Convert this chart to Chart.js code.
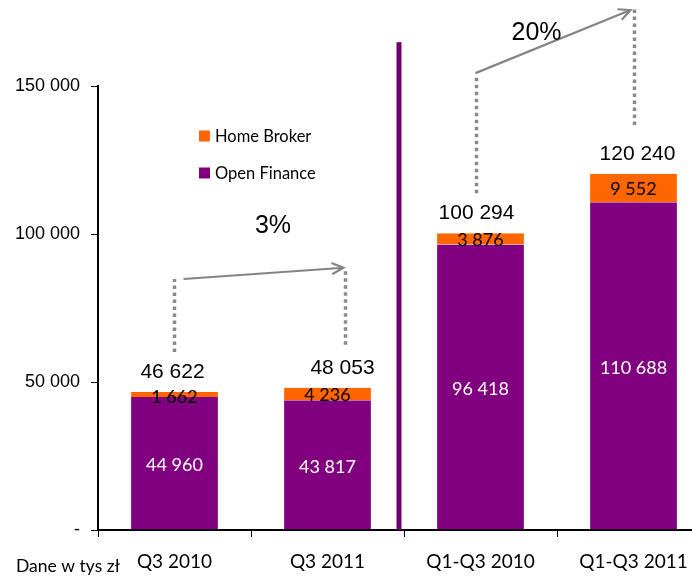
<!DOCTYPE html>
<html>
<head>
<meta charset="utf-8">
<script src="https://cdn.jsdelivr.net/npm/chart.js@4"></script>
<style>
  html, body { margin: 0; padding: 0; background: #fff; overflow: hidden; }
  canvas { display: block; }
</style>
</head>
<body>
<canvas id="chart" width="710" height="577"></canvas>
<script>
"use strict";

// chart data
const categories = ["Q3 2010", "Q3 2011", "Q1-Q3 2010", "Q1-Q3 2011"];
const openFinance = [44960, 43817, 96418, 110688];
const homeBroker = [1662, 4236, 3876, 9552];
const totals = [46622, 48053, 100294, 120240];
const yTicks = [0, 50000, 100000, 150000];
const growthLabels = ["3%", "20%"];
const unitLabel = "Dane w tys zł";

const PURPLE = "#800080";
const ORANGE = "#ff6600";
const GREY = "#8a8a8a";
const calibri = "Lato, 'Open Sans', sans-serif";
const arial = "'Liberation Sans', Arial, sans-serif";

function fmt(n) {
  return String(n).replace(/\B(?=(\d{3})+(?!\d))/g, " ");
}

function dotted(ctx, x, y1, y2) {
  ctx.save();
  ctx.strokeStyle = GREY;
  ctx.lineWidth = 3.5;
  ctx.setLineDash([3.5, 3.5]);
  ctx.beginPath();
  ctx.moveTo(x, y1);
  ctx.lineTo(x, y2);
  ctx.stroke();
  ctx.restore();
}

function arrow(ctx, x1, y1, x2, y2) {
  const a = Math.atan2(y2 - y1, x2 - x1);
  const h = 13;
  ctx.save();
  ctx.strokeStyle = "#858585";
  ctx.lineWidth = 2.2;
  ctx.beginPath();
  ctx.moveTo(x1, y1);
  ctx.lineTo(x2, y2);
  ctx.moveTo(x2 - h * Math.cos(a - 0.45), y2 - h * Math.sin(a - 0.45));
  ctx.lineTo(x2, y2);
  ctx.lineTo(x2 - h * Math.cos(a + 0.45), y2 - h * Math.sin(a + 0.45));
  ctx.stroke();
  ctx.restore();
}

// draws labels, legend, divider and growth arrows
const extras = {
  id: "extras",
  afterDatasetsDraw(chart) {
    const ctx = chart.ctx;
    const x = chart.scales.x;
    const y = chart.scales.y;
    const cx = categories.map((c, i) => x.getPixelForValue(i));
    const tops = totals.map(v => y.getPixelForValue(v));

    // divider between quarter and year-to-date bars
    ctx.fillStyle = "#6e006e";
    const dx = (cx[1] + cx[2]) / 2 - 5;
    const dTop = y.getPixelForValue(164800);
    ctx.fillRect(dx - 2.5, dTop, 5, y.bottom - dTop);

    ctx.textAlign = "center";
    ctx.textBaseline = "middle";

    // segment labels
    const metaOF = chart.getDatasetMeta(0);
    const metaHB = chart.getDatasetMeta(1);
    ctx.font = "18px " + calibri;
    metaOF.data.forEach((bar, i) => {
      ctx.fillStyle = "#ffffff";
      ctx.fillText(fmt(openFinance[i]), bar.x, (bar.y + bar.base) / 2 + 2);
    });
    metaHB.data.forEach((bar, i) => {
      ctx.fillStyle = "#000000";
      const off = homeBroker[i] < 3000 ? 3 : 1;
      ctx.fillText(fmt(homeBroker[i]), bar.x, (bar.y + bar.base) / 2 + off);
    });

    // totals
    ctx.font = "21px " + arial;
    ctx.fillStyle = "#000";
    const tOff = [-2, 15, -4, 4];
    totals.forEach((v, i) => {
      ctx.fillText(fmt(v), cx[i] + tOff[i], tops[i] - 20);
    });

    // growth arrows
    const g1a = cx[0], g1b = cx[1] + 18;
    dotted(ctx, g1a, tops[0] - 40, tops[0] - 113);
    dotted(ctx, g1b, tops[1] - 43, tops[1] - 120);
    arrow(ctx, g1a + 9, tops[0] - 113, g1b - 2, tops[1] - 120);

    const g2a = cx[2] - 4, g2b = cx[3] + 1;
    dotted(ctx, g2a, tops[2] - 40, tops[2] - 157);
    dotted(ctx, g2b, tops[3] - 49, tops[3] - 167);
    arrow(ctx, g2a - 1, tops[2] - 160, g2b - 4, tops[3] - 164);

    ctx.font = "25px " + arial;
    ctx.fillStyle = "#000";
    ctx.fillText(growthLabels[0], (g1a + g1b) / 2 + 13, tops[0] - 166);
    ctx.fillText(growthLabels[1], (g2a + g2b) / 2 - 19, tops[3] - 141);

    // legend
    ctx.textAlign = "left";
    ctx.font = "16.5px " + calibri;
    const legend = [[chart.data.datasets[1].label, ORANGE], [chart.data.datasets[0].label, PURPLE]];
    legend.forEach(([label, color], i) => {
      const ly = 136 + i * 37;
      ctx.fillStyle = color;
      ctx.fillRect(199, ly - 5.5, 11, 11);
      ctx.fillStyle = "#000";
      ctx.fillText(label, 215, ly + 1);
    });

    // unit note
    ctx.font = "17.5px " + calibri;
    ctx.fillText(unitLabel, 16, 566);
  }
};

const sideBorder = { left: 1, right: 1, top: 0, bottom: 0 };

new Chart(document.getElementById("chart"), {
  type: "bar",
  data: {
    labels: categories,
    datasets: [
      {
        label: "Open Finance",
        data: openFinance,
        backgroundColor: PURPLE,
        borderColor: "rgba(255,255,255,0.45)",
        borderWidth: sideBorder,
      },
      {
        label: "Home Broker",
        data: homeBroker,
        backgroundColor: ORANGE,
        borderColor: "rgba(255,255,255,0.45)",
        borderWidth: sideBorder,
      },
    ],
  },
  options: {
    responsive: false,
    animation: false,
    devicePixelRatio: 1,
    layout: { padding: { top: 86, left: 0, right: 0, bottom: 0 } },
    datasets: {
      bar: { categoryPercentage: 0.58, barPercentage: 1 },
    },
    plugins: {
      legend: { display: false },
      tooltip: { enabled: false },
    },
    scales: {
      x: {
        stacked: true,
        afterFit: s => { s.height = 47; },
        grid: { drawOnChartArea: false, color: "#000", tickLength: 7, offset: true },
        border: { color: "#000", width: 2 },
        ticks: { color: "#000", font: { family: calibri, size: 19 }, padding: 13 },
      },
      y: {
        stacked: true,
        min: 0,
        max: 150000,
        afterFit: s => { s.width = 98; },
        afterBuildTicks: s => { s.ticks = yTicks.map(v => ({ value: v })); },
        grid: { drawOnChartArea: false, color: "#000", tickLength: 7 },
        border: { color: "#000", width: 2 },
        ticks: {
          color: "#000",
          font: { family: arial, size: 18 },
          padding: 11,
          callback: v => (v === 0 ? "-" : fmt(v)),
        },
      },
    },
  },
  plugins: [extras],
});
</script>
</body>
</html>
